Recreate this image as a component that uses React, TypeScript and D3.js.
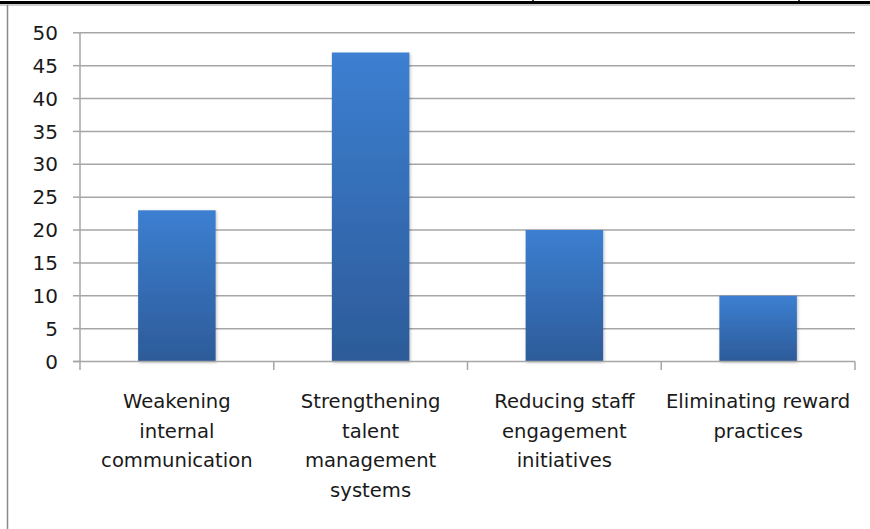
import React from "react";
import * as d3 from "d3";

const categories = [
  "Weakening internal communication",
  "Strengthening talent management systems",
  "Reducing staff engagement initiatives",
  "Eliminating reward practices",
];
const categoryLines = [
  ["Weakening", "internal", "communication"],
  ["Strengthening", "talent", "management", "systems"],
  ["Reducing staff", "engagement", "initiatives"],
  ["Eliminating reward", "practices"],
];
const values = [23, 47, 20, 10];
const yTicks = [0, 5, 10, 15, 20, 25, 30, 35, 40, 45, 50];

const W = 870;
const H = 529;
const FONT = "'DejaVu Sans', sans-serif";

export default function App() {
  const x = d3.scaleBand<string>().domain(categories).range([80, 855]).paddingInner(0).paddingOuter(0);
  const y = d3.scaleLinear().domain([0, 50]).range([361.5, 32.8]);
  const bw = x.bandwidth() * 0.4;
  const bandEdges = categories.map((c) => x(c) as number).concat([855]);

  return (
    <svg
      width={W}
      height={H}
      style={{ position: "absolute", left: 0, top: 0, background: "#fff" }}
      fontFamily={FONT}
    >
      <defs>
        <linearGradient id="barGrad" x1="0" y1="0" x2="0" y2="1">
          <stop offset="0%" stopColor="#3c7fd1" />
          <stop offset="100%" stopColor="#2d5b99" />
        </linearGradient>
        <filter id="shadow" x="-20%" y="-20%" width="140%" height="140%">
          <feDropShadow dx="1" dy="1" stdDeviation="1.5" floodColor="#000" floodOpacity="0.25" />
        </filter>
      </defs>
      <rect x={0} y={0} width={W} height={H} fill="#fff" />
      {/* frame */}
      <line x1={0} x2={W} y1={2.5} y2={2.5} stroke="#000" strokeWidth={3} />
      <line x1={0} x2={W} y1={5} y2={5} stroke="#9a9a9a" strokeWidth={1.2} />
      <line x1={533} x2={533} y1={0} y2={4} stroke="#000" strokeWidth={1.5} />
      <line x1={799} x2={799} y1={0} y2={4} stroke="#000" strokeWidth={1.5} />
      <line x1={7.5} x2={7.5} y1={5} y2={H} stroke="#8a8a8a" strokeWidth={1.5} />

      {/* gridlines + y ticks */}
      {yTicks.map((t) => (
        <g key={t}>
          {t > 0 && (
            <line x1={80} x2={855} y1={y(t)} y2={y(t)} stroke="#a6a6a6" strokeWidth={1.5} />
          )}
          <line x1={73} x2={80} y1={y(t)} y2={y(t)} stroke="#a6a6a6" strokeWidth={1.5} />
          <text x={58} y={y(t)} dy="0.36em" textAnchor="end" fontSize={20} fill="#1a1a1a">
            {t}
          </text>
        </g>
      ))}

      {/* bars */}
      {categories.map((c, i) => (
        <rect
          key={c}
          x={(x(c) as number) + (x.bandwidth() - bw) / 2}
          y={y(values[i])}
          width={bw}
          height={y(0) - y(values[i])}
          fill="url(#barGrad)"
          filter="url(#shadow)"
        />
      ))}

      {/* axes */}
      <line x1={80} x2={80} y1={y(50)} y2={y(0)} stroke="#a6a6a6" strokeWidth={1.5} />
      <line x1={73} x2={855} y1={y(0)} y2={y(0)} stroke="#a6a6a6" strokeWidth={1.5} />
      {bandEdges.map((e, i) => (
        <line key={i} x1={e} x2={e} y1={y(0)} y2={370} stroke="#a6a6a6" strokeWidth={1.5} />
      ))}

      {/* category labels */}
      {categories.map((c, i) => (
        <text
          key={c}
          x={(x(c) as number) + x.bandwidth() / 2}
          y={408}
          textAnchor="middle"
          fontSize={19.6}
          fill="#1a1a1a"
        >
          {categoryLines[i].map((ln, j) => (
            <tspan key={j} x={(x(c) as number) + x.bandwidth() / 2} y={408 + j * 29.7}>
              {ln}
            </tspan>
          ))}
        </text>
      ))}
    </svg>
  );
}
